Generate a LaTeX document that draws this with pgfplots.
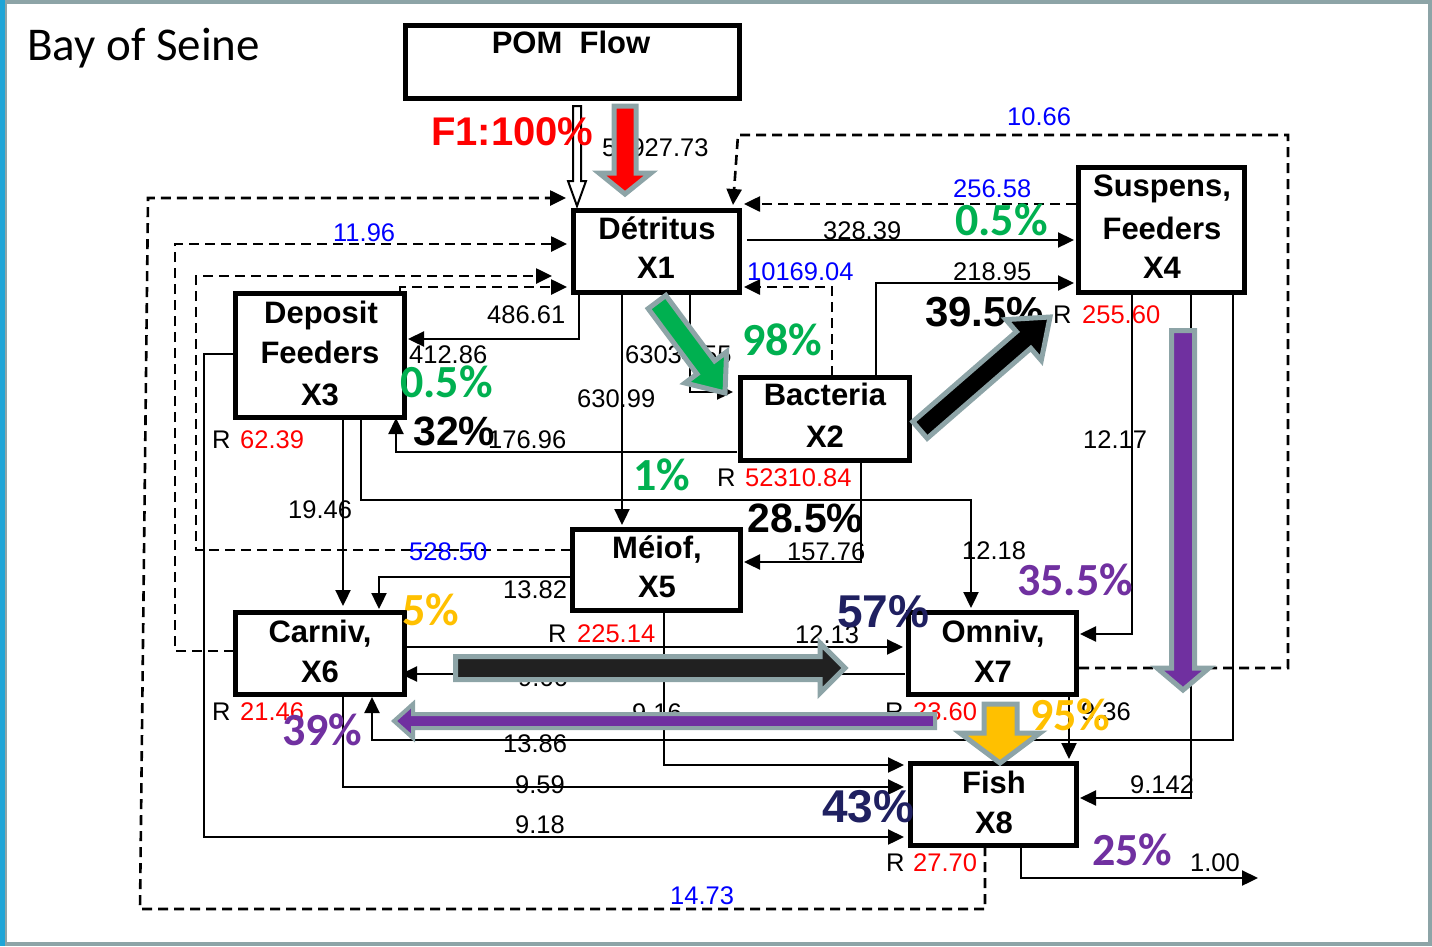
\documentclass[border=0pt]{standalone}
\usepackage{pgfplots}
\pgfplotsset{compat=1.18}
\usetikzlibrary{arrows.meta}
\usepackage{fontspec}
\setmainfont{Liberation Sans}
\newfontfamily\calibri{Carlito}
\definecolor{fgray}{RGB}{141,164,167}
\definecolor{ogreen}{RGB}{0,176,80}
\definecolor{opurple}{RGB}{112,48,160}
\definecolor{oyellow}{RGB}{255,192,0}
\definecolor{navy}{RGB}{31,32,96}
\definecolor{frameblue}{RGB}{30,165,215}
\definecolor{tblue}{RGB}{0,0,255}
\definecolor{tred}{RGB}{255,0,0}
\tikzset{
  thn/.style={draw=black, line width=2.3pt, -{Triangle[length=16pt,width=15pt]}},
  thnn/.style={draw=black, line width=2.3pt},
  dsh/.style={draw=black, line width=2.6pt, dash pattern=on 10pt off 6pt, -{Triangle[length=16pt,width=15pt]}},
  bx/.style={draw=black, line width=5pt, fill=white, line join=miter},
  fat/.style={draw=fgray, line width=5pt, line join=miter},
}
\newcommand{\nm}[4][black]{\node[anchor=base west, inner sep=0pt, text=#1, font=\fontsize{25.5}{30}\selectfont] at (axis cs:#2,#3) {#4};}
\newcommand{\bl}[3]{\node[anchor=base, inner sep=0pt, font=\bfseries\fontsize{31}{36}\selectfont] at (axis cs:#1,#2) {#3};}
\newcommand{\pc}[4]{\node[anchor=base west, inner sep=0pt, text=#1, font=\calibri\bfseries\fontsize{46}{50}\selectfont] at (axis cs:#2,#3) {#4};}
\newcommand{\pa}[5]{\node[anchor=base west, inner sep=0pt, text=#1, font=\bfseries\fontsize{#5}{#5}\selectfont] at (axis cs:#2,#3) {#4};}
\begin{document}
\begin{tikzpicture}
\begin{axis}[
  width=1432pt, height=946pt, scale only axis,
  xmin=0, xmax=1432, ymin=0, ymax=946, y dir=reverse,
  hide axis, clip=true,
  every axis plot/.append style={mark=none},
]
% frame
\addplot[draw=fgray, line width=4pt] coordinates {(2,2)(1430,2)(1430,944)(2,944)} -- cycle;
\addplot[draw=frameblue, line width=5pt] coordinates {(2.5,0)(2.5,946)};
\addplot[draw=fgray, line width=2.5pt] coordinates {(6.2,0)(6.2,946)};
% dashed feedback flows
\addplot[dsh] coordinates {(1079,668)(1288,668)(1288,135)(738,135)(733,205)};
\addplot[dsh] coordinates {(1076,204)(744,204)};
\addplot[dsh] coordinates {(832,376)(832,287)(744,287)};
\addplot[dsh] coordinates {(985,846)(985,909)(140,909)(148,198)(566,198)};
\addplot[dsh] coordinates {(234,651)(175,651)(175,244)(567,244)};
\addplot[dsh] coordinates {(571,550)(196,550)(196,276)(552,276)};
\addplot[dsh] coordinates {(400,291)(400,287)(567,287)};
% solid flows
\addplot[thn] coordinates {(747,240)(1074,240)};
\addplot[thn] coordinates {(876,376)(876,283)(1074,283)};
\addplot[thn] coordinates {(579,293)(579,339)(408,339)};
\addplot[thn] coordinates {(622,293)(622,525)};
\addplot[thn] coordinates {(690,293)(690,392)(733,392)};
\addplot[thn] coordinates {(737,452)(396,452)(396,418)};
\addplot[thn] coordinates {(361,418)(361,500)(971,500)(971,608)};
\addplot[thn] coordinates {(343,418)(343,606)};
\addplot[thn] coordinates {(861,461)(861,562)(744,562)};
\addplot[thn] coordinates {(570,577)(379,577)(379,609)};
\addplot[thn] coordinates {(406,647)(903,647)};
\addplot[thn] coordinates {(905,674)(401,674)};
\addplot[thn] coordinates {(664,611)(664,765)(904,765)};
\addplot[thn] coordinates {(1233,293)(1233,740)(372,740)(372,697)};
\addplot[thn] coordinates {(1069,696)(1069,759)};
\addplot[thn] coordinates {(1191,293)(1191,798)(1080,798)};
\addplot[thn] coordinates {(1132,293)(1132,634)(1080,634)};
\addplot[thn] coordinates {(343,696)(343,787)(904,787)};
\addplot[thn] coordinates {(234,354)(204,354)(204,837)(904,837)};
\addplot[thn] coordinates {(1021,846)(1021,878)(1258,878)};
% boxes
\addplot[bx] coordinates {(405,25)(739,25)(739,98)(405,98)} -- cycle;
\addplot[bx] coordinates {(573,210)(739,210)(739,292)(573,292)} -- cycle;
\addplot[bx] coordinates {(1078,167)(1244,167)(1244,292)(1078,292)} -- cycle;
\addplot[bx] coordinates {(235,293)(404,293)(404,417)(235,417)} -- cycle;
\addplot[bx] coordinates {(740,377)(909,377)(909,460)(740,460)} -- cycle;
\addplot[bx] coordinates {(572,529)(740,529)(740,610)(572,610)} -- cycle;
\addplot[bx] coordinates {(235,612)(404,612)(404,694)(235,694)} -- cycle;
\addplot[bx] coordinates {(908,612)(1076,612)(1076,694)(908,694)} -- cycle;
\addplot[bx] coordinates {(910,763)(1076,763)(1076,845)(910,845)} -- cycle;
% box labels
\bl{571}{53}{POM~ Flow}
\bl{657}{239}{Détritus}
\bl{656}{278}{X1}
\bl{1162}{196}{Suspens,}
\bl{1162}{239}{Feeders}
\bl{1162}{278}{X4}
\bl{321}{323}{Deposit}
\bl{320}{363}{Feeders}
\bl{320}{405}{X3}
\bl{825}{405}{Bacteria}
\bl{825}{447}{X2}
\bl{657}{558}{Méiof,}
\bl{657}{597}{X5}
\bl{320}{642}{Carniv,}
\bl{320}{682}{X6}
\bl{993}{642}{Omniv,}
\bl{993}{682}{X7}
\bl{994}{793}{Fish}
\bl{994}{833}{X8}
% title
\node[anchor=base west, inner sep=0pt, font=\calibri\fontsize{47}{52}\selectfont] at (axis cs:27,60) {Bay of Seine};
% flow numbers
\nm{602}{156}{51927.73}
\nm[tblue]{1007}{125}{10.66}
\nm[tblue]{953}{197}{256.58}
\nm{823}{239}{328.39}
\nm[tblue]{747}{280}{10169.04}
\nm{953}{280}{218.95}
\nm[tblue]{333}{241}{11.96}
\nm{487}{323}{486.61}
\nm{409}{363}{412.86}
\nm{625}{363}{63034.55}
\nm{577}{407}{630.99}
\nm{488}{448}{176.96}
\nm{1083}{448}{12.17}
\nm{288}{518}{19.46}
\nm[tblue]{409}{560}{528.50}
\nm{787}{560}{157.76}
\nm{962}{559}{12.18}
\nm{503}{598}{13.82}
\nm{795}{643}{12.13}
\nm{518}{686}{9.66}
\nm{632}{721}{9.16}
\nm{503}{752}{13.86}
\nm{515}{793}{9.59}
\nm{515}{833}{9.18}
\nm[tblue]{670}{904}{14.73}
\nm{1081}{720}{9.36}
\nm{1130}{793}{9.142}
\nm{1190}{871}{1.00}
% respiration
\nm{1053}{323}{R}\nm[tred]{1082}{323}{255.60}
\nm{212}{448}{R}\nm[tred]{240}{448}{62.39}
\nm{717}{486}{R}\nm[tred]{745}{486}{52310.84}
\nm{548}{642}{R}\nm[tred]{577}{642}{225.14}
\nm{212}{720}{R}\nm[tred]{240}{720}{21.46}
\nm{885}{720}{R}\nm[tred]{913}{720}{23.60}
\nm{886}{871}{R}\nm[tred]{913}{871}{27.70}
\pa{black}{925}{326}{39.5\%}{42}
% fat arrows
\addplot[draw=black, line width=2pt, fill=white, line join=miter] coordinates {(573,106)(581,106)(581,181)(586,181)(577,206)(568,181)(573,181)} -- cycle;
\addplot[fat, fill=tred] coordinates {(614,106)(636,106)(636,173)(651,173)(625,194)(599,173)(614,173)} -- cycle;
\addplot[fat, fill=ogreen] coordinates {(648.2,308.6)(697.0,374.0)(685.0,383.0)(725,393)(726.6,351.8)(714.6,360.8)(665.8,295.4)} -- cycle;
\addplot[fat, fill=black] coordinates {(912.8,421.7)(1016.4,331.7)(1005.9,319.6)(1050,317)(1041.3,360.4)(1030.8,348.3)(927.2,438.3)} -- cycle;
\addplot[fat, fill=opurple] coordinates {(1171.5,330.5)(1194.5,330.5)(1194.5,668)(1209,668)(1183,690)(1157,668)(1171.5,668)} -- cycle;
\addplot[fat, fill=black!87] coordinates {(455.5,656.5)(820,656.5)(820,643)(845,668)(820,693)(820,679.5)(455.5,679.5)} -- cycle;
\addplot[fat, line width=4pt, fill=opurple] coordinates {(935,714)(413,714)(413,704)(394,721)(413,738)(413,728)(935,728)} -- cycle;
\addplot[fat, fill=oyellow] coordinates {(984,704)(1017,704)(1017,733)(1040,733)(1000,763)(960,733)(984,733)} -- cycle;
% percentages
\pa{tred}{431}{145}{F1:100\%}{40}
\pc{ogreen}{955}{235}{0.5\%}
\pc{ogreen}{742}{355}{98\%}
\pc{ogreen}{400}{397}{0.5\%}
\pa{black}{413}{445}{32\%}{41}
\pc{ogreen}{633}{490}{1\%}
\pa{black}{747}{532}{28.5\%}{41}
\pc{opurple}{1017}{595}{35.5\%}
\pa{navy}{837}{627}{57\%}{46}
\pc{oyellow}{402}{625}{5\%}
\pc{opurple}{282}{745}{39\%}
\pc{oyellow}{1030}{730}{95\%}
\pa{navy}{822}{822}{43\%}{46}
\pc{opurple}{1092}{865}{25\%}
\end{axis}
\end{tikzpicture}
\end{document}
